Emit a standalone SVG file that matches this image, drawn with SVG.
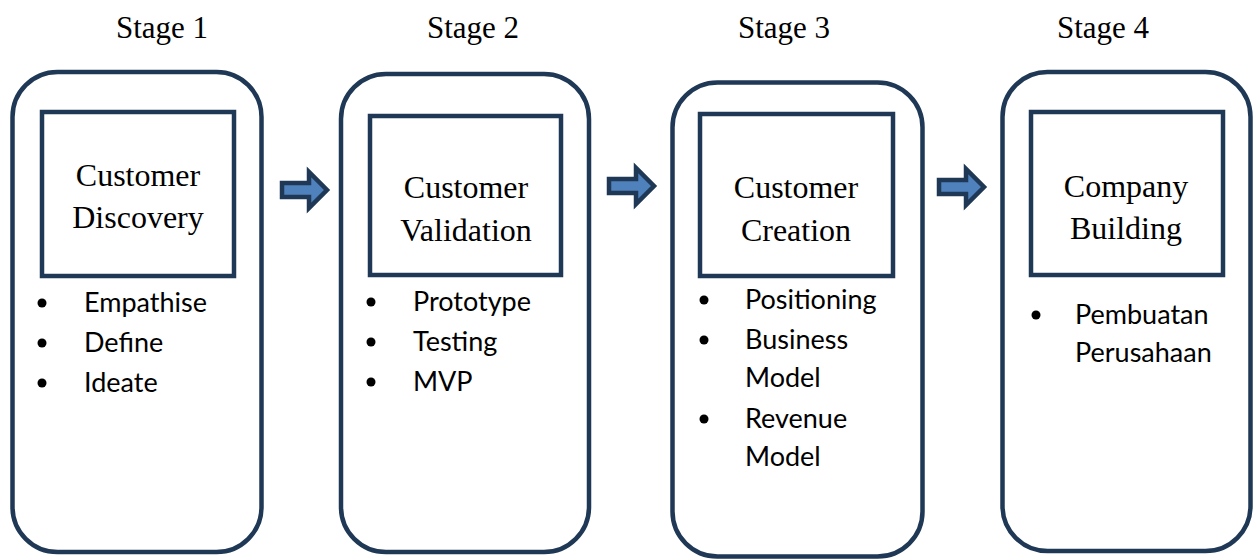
<svg xmlns="http://www.w3.org/2000/svg" width="1254" height="560" viewBox="0 0 1254 560">
<style>
.outer{fill:#fff;stroke:#1f3855;stroke-width:4.5}
.inner{fill:#fff;stroke:#1f3855;stroke-width:4.5}
.stage{font-family:"Liberation Serif",serif;font-size:31px;fill:#000;text-anchor:middle}
.title{font-family:"Liberation Serif",serif;font-size:32px;fill:#000;text-anchor:middle}
.item{font-family:Lato,"Liberation Sans",sans-serif;font-size:27px;fill:#000}
.dot{fill:#000}
.arrow{fill:#4f81bd;stroke:#1f3855;stroke-width:4.5;stroke-linejoin:miter}
</style>
<rect width="1254" height="560" fill="#fff"/>
<g id="stage1">
<text class="stage" x="162" y="38">Stage 1</text>
<rect class="outer" x="12.5" y="72" width="249" height="480" rx="45"/>
<rect class="inner" x="42" y="112" width="192" height="164"/>
<text class="title" x="138" y="186">Customer</text>
<text class="title" x="138" y="228">Discovery</text>
<circle class="dot" cx="42" cy="303" r="4.5"/><text class="item" x="84" y="312">Empathise</text>
<circle class="dot" cx="42" cy="343" r="4.5"/><text class="item" x="84" y="352">Define</text>
<circle class="dot" cx="42" cy="383" r="4.5"/><text class="item" x="84" y="392">Ideate</text>
</g>
<g id="stage2">
<text class="stage" x="473" y="38">Stage 2</text>
<rect class="outer" x="341" y="74" width="248" height="478" rx="45"/>
<rect class="inner" x="370" y="116" width="191" height="159"/>
<text class="title" x="466" y="198">Customer</text>
<text class="title" x="466" y="241">Validation</text>
<circle class="dot" cx="371" cy="302" r="4.5"/><text class="item" x="413" y="311">Prototype</text>
<circle class="dot" cx="371" cy="342" r="4.5"/><text class="item" x="413" y="351">Testing</text>
<circle class="dot" cx="371" cy="382" r="4.5"/><text class="item" x="413" y="391">MVP</text>
</g>
<g id="stage3">
<text class="stage" x="784" y="38">Stage 3</text>
<rect class="outer" x="672.5" y="82.5" width="250" height="474" rx="45"/>
<rect class="inner" x="700" y="114" width="193" height="162"/>
<text class="title" x="796" y="198">Customer</text>
<text class="title" x="796" y="241">Creation</text>
<circle class="dot" cx="704" cy="300" r="4.5"/><text class="item" x="745" y="309">Positioning</text>
<circle class="dot" cx="704" cy="340" r="4.5"/><text class="item" x="745" y="349">Business</text>
<text class="item" x="745" y="387">Model</text>
<circle class="dot" cx="704" cy="419" r="4.5"/><text class="item" x="745" y="428">Revenue</text>
<text class="item" x="745" y="466">Model</text>
</g>
<g id="stage4">
<text class="stage" x="1103" y="38">Stage 4</text>
<rect class="outer" x="1002.5" y="72" width="248" height="479" rx="45"/>
<rect class="inner" x="1031" y="112" width="192" height="163"/>
<text class="title" x="1126" y="197">Company</text>
<text class="title" x="1126" y="239">Building</text>
<circle class="dot" cx="1036" cy="315" r="4.5"/><text class="item" x="1075" y="324">Pembuatan</text>
<text class="item" x="1075" y="362">Perusahaan</text>
</g>
<g id="connectors">
<path class="arrow" d="M282,183 H309 V172 L327,190 L309,208 V197 H282 Z"/>
<path class="arrow" d="M609,179 H636 V168 L654,186 L636,204 V193 H609 Z"/>
<path class="arrow" d="M939,180 H966 V169 L984,187 L966,205 V194 H939 Z"/>
</g>
</svg>
